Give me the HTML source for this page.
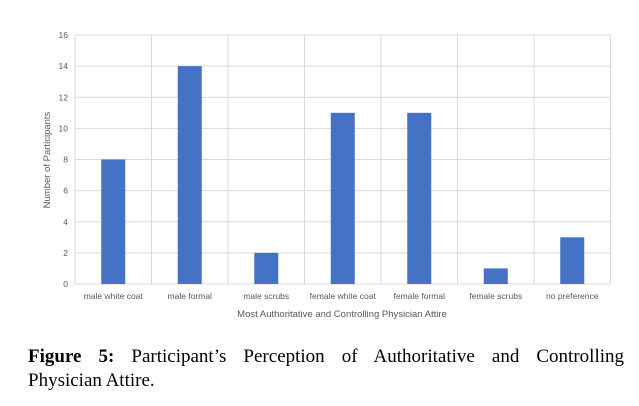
<!DOCTYPE html>
<html><head><meta charset="utf-8"><style>
body{margin:0;background:#fff;width:639px;height:406px;overflow:hidden;position:relative}
svg{position:absolute;left:0;top:0}
.cap{position:absolute;left:28px;width:596px;font-family:"Liberation Serif",serif;font-size:19px;line-height:24px;color:#000;white-space:nowrap}
.l1{top:345px;text-align:justify;text-align-last:justify}
.l2{top:369px}
</style></head><body>
<svg width="639" height="340">
<g id="grid"></g>
<g id="bars"></g>
<g id="labels" font-family="Liberation Sans, sans-serif" fill="#595959"></g>
<text x="342" y="317" text-anchor="middle" font-family="Liberation Sans, sans-serif" font-size="9.5" fill="#595959">Most Authoritative and Controlling Physician Attire</text>
<text transform="translate(50,160) rotate(-90)" text-anchor="middle" font-family="Liberation Sans, sans-serif" font-size="9.5" fill="#595959">Number of Participants</text>
</svg>
<div class="cap l1"><b>Figure 5:</b> Participant’s Perception of Authoritative and Controlling</div>
<div class="cap l2">Physician Attire.</div>
<script>
const categories=["male white coat","male formal","male scrubs","female white coat","female formal","female scrubs","no preference"];
const values=[8,14,2,11,11,1,3];
const yTicks=[0,2,4,6,8,10,12,14,16];
const L=75,R=610.5,T=35,B=284,yMax=16;
const ns="http://www.w3.org/2000/svg";
const cw=(R-L)/categories.length;
const y=v=>B-(v/yMax)*(B-T);
const x=i=>L+i*cw;
function mk(tag,attrs,parent){const e=document.createElementNS(ns,tag);for(const k in attrs)e.setAttribute(k,attrs[k]);parent.appendChild(e);return e;}
const grid=document.getElementById('grid'),bars=document.getElementById('bars'),labels=document.getElementById('labels');
yTicks.forEach(t=>{
 const l=mk('line',{x1:L,x2:R,y1:y(t),y2:y(t),stroke:'#d9d9d9','stroke-width':1},grid);
 
 
 const tx=mk('text',{x:68,y:y(t)+3,'text-anchor':'end','font-size':8.5},labels);
 tx.textContent=t;
 
 
});
for(let i=0;i<=categories.length;i++){
 const l=mk('line',{x1:x(i),x2:x(i),y1:T,y2:B,stroke:'#d9d9d9','stroke-width':1},grid);
 
 
}
categories.forEach((c,i)=>{
 const bw=24,cx=x(i)+cw/2;
 const r=mk('rect',{x:cx-bw/2,y:y(values[i]),width:bw,height:B-y(values[i]),fill:'#4472c4'},bars);
 
 
 const t=mk('text',{x:cx,y:299,'text-anchor':'middle','font-size':8.5},labels);
 t.textContent=c;
 
 
});
</script>
</body></html>
